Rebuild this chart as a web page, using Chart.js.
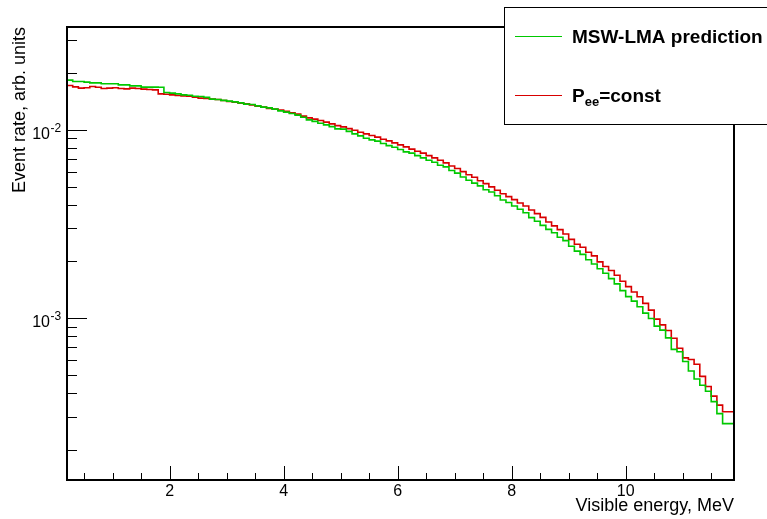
<!DOCTYPE html>
<html>
<head>
<meta charset="utf-8">
<script src="https://cdn.jsdelivr.net/npm/chart.js@4.4.1/dist/chart.umd.min.js"></script>
<style>
  html, body { margin: 0; padding: 0; background: #fff; }
  #wrap { width: 767px; height: 519px; }
</style>
</head>
<body>
<div id="wrap"><canvas id="chart" width="767" height="519"></canvas></div>
<script>
// histogram binning (MeV)
const binStart = 0.2;
const binWidth = 0.1;
const xMin = 0.2, xMax = 11.9;
const yMin = 1.38e-4, yMax = 0.0352;

// bin contents, 117 bins each
const mswLma = [
  0.01838, 0.01838, 0.01807, 0.01807, 0.01794, 0.01778, 0.01778, 0.01757, 0.01757, 0.01757,
  0.01735, 0.01735, 0.01714, 0.01714, 0.01687, 0.01687, 0.01687, 0.01683, 0.01579, 0.01567,
  0.01554, 0.01535,
  0.01526, 0.01508, 0.01504, 0.01489, 0.01457, 0.01450, 0.01435, 0.01422, 0.01409, 0.01392,
  0.01370, 0.01364, 0.01342, 0.01321, 0.01309, 0.01289, 0.01262, 0.01242, 0.01221, 0.01197,
  0.01168,
  0.01130, 0.01110, 0.01085, 0.01063, 0.01041, 0.01012, 0.01009, 0.00982, 0.00952, 0.00929,
  0.00903, 0.00885, 0.00871, 0.00846, 0.00825, 0.00809, 0.00786, 0.00764, 0.00752, 0.00730,
  0.00710,
  0.00690, 0.00673, 0.00649, 0.00636, 0.00608, 0.00589, 0.00562, 0.00540, 0.00521, 0.00504,
  0.00481, 0.00468, 0.00447, 0.00424, 0.00411, 0.00394, 0.00379, 0.00363,
  0.00342, 0.00327, 0.00311, 0.00296, 0.00284, 0.00269, 0.00258, 0.00241, 0.00227, 0.00218,
  0.00204, 0.00194, 0.00183, 0.00173, 0.00162, 0.00152, 0.00140, 0.00130,
  0.001231, 0.001148, 0.001063, 0.000996, 0.000907, 0.000863, 0.000785, 0.000682, 0.000662,
  0.000588, 0.000524, 0.000475, 0.000440, 0.000409, 0.000360, 0.000311, 0.000275
];
const peeConst = [
  0.01699, 0.01720, 0.01693, 0.01667, 0.01673, 0.01699, 0.01683, 0.01659, 0.01667, 0.01673,
  0.01659, 0.01652, 0.01667, 0.01659, 0.01646, 0.01638, 0.01632, 0.01554, 0.01545, 0.01535,
  0.01522, 0.01516,
  0.01508, 0.01493, 0.01475, 0.01468, 0.01457, 0.01450, 0.01432, 0.01414, 0.01404, 0.01387,
  0.01375, 0.01358, 0.01334, 0.01321, 0.01298, 0.01289, 0.01273, 0.01254, 0.01231, 0.01212,
  0.01183,
  0.01158, 0.01140, 0.01121, 0.01099, 0.01076, 0.01054, 0.01038, 0.01016, 0.00996, 0.00972,
  0.00952, 0.00933, 0.00915, 0.00892, 0.00874, 0.00853, 0.00832, 0.00812, 0.00790, 0.00770,
  0.00752,
  0.00730, 0.00710, 0.00690, 0.00668, 0.00643, 0.00623, 0.00600, 0.00578, 0.00560, 0.00537,
  0.00518, 0.00498, 0.00478, 0.00458, 0.00442, 0.00426, 0.00409, 0.00394,
  0.00375, 0.00359, 0.00343, 0.00324, 0.00309, 0.00295, 0.00280, 0.00262, 0.00247, 0.00238,
  0.00224, 0.00214, 0.00199, 0.00188, 0.00179, 0.00169, 0.00157, 0.00147,
  0.001375, 0.001298, 0.001197, 0.001103, 0.000988, 0.000921, 0.000860, 0.000782, 0.000692,
  0.000615, 0.000603, 0.000569, 0.000490, 0.000433, 0.000385, 0.000345, 0.000318
];

const seriesLabels = ['MSW-LMA prediction', 'P_{ee}=const'];
const xTitle = 'Visible energy, MeV';
const yTitle = 'Event rate, arb. units';
const xMajorStep = 2;

const FONT = '"Liberation Sans", Arial, Helvetica, sans-serif';

// step histogram: one point per lower bin edge + closing point at last upper edge
function toSteps(values) {
  const pts = values.map((v, i) => ({ x: binStart + i * binWidth, y: v }));
  pts.push({ x: binStart + values.length * binWidth, y: values[values.length - 1] });
  return pts;
}

function line(ctx, x1, y1, x2, y2) {
  ctx.beginPath();
  ctx.moveTo(x1, y1);
  ctx.lineTo(x2, y2);
  ctx.stroke();
}

// text with ROOT-like _{sub} markup
function drawRich(ctx, text, x, y, size) {
  const parts = text.split(/_\{([^}]*)\}/);
  parts.forEach((p, k) => {
    if (k % 2) {
      ctx.font = 'bold ' + Math.round(size * 0.66) + 'px ' + FONT;
      ctx.fillText(p, x, y + 4);
    } else {
      ctx.font = 'bold ' + size + 'px ' + FONT;
      ctx.fillText(p, x, y);
    }
    x += ctx.measureText(p).width;
  });
}

const rootFrame = {
  id: 'rootFrame',
  afterDatasetsDraw(chart) {
    const { ctx, chartArea: a, scales: { x, y } } = chart;
    ctx.save();
    ctx.strokeStyle = '#000';
    ctx.lineWidth = 1;

    // x ticks, inside the frame
    const minor = xMajorStep / 4;
    for (let v = Math.ceil(x.min / minor) * minor; v <= x.max + 1e-9; v += minor) {
      const px = Math.round(x.getPixelForValue(v)) + 0.5;
      const isMajor = Math.abs(v / xMajorStep - Math.round(v / xMajorStep)) < 1e-6;
      line(ctx, px, a.bottom, px, a.bottom - (isMajor ? 14 : 7));
    }

    // y ticks (log) and decade labels
    ctx.fillStyle = '#000';
    for (let e = Math.floor(Math.log10(y.min)); e <= Math.ceil(Math.log10(y.max)); e++) {
      for (let m = 1; m <= 9; m++) {
        const v = m * Math.pow(10, e);
        if (v < y.min || v > y.max) continue;
        const py = Math.round(y.getPixelForValue(v)) + 0.5;
        line(ctx, a.left, py, a.left + (m === 1 ? 20 : 10), py);
        if (m === 1) {
          ctx.textBaseline = 'alphabetic';
          ctx.textAlign = 'right';
          ctx.font = '16px ' + FONT;
          ctx.fillText('10', 50, py + 8.5);
          ctx.textAlign = 'left';
          ctx.font = '12px ' + FONT;
          ctx.fillText(String(e), 50.5, py + 1);
        }
      }
    }

    // frame
    ctx.lineWidth = 2;
    ctx.strokeRect(a.left, a.top, a.right - a.left, a.bottom - a.top);
    ctx.restore();
  },
  afterDraw(chart) {
    const { ctx } = chart;
    ctx.save();
    // legend box (runs off the right edge)
    ctx.fillStyle = '#fff';
    ctx.fillRect(504, 7, 300, 117);
    ctx.strokeStyle = '#000';
    ctx.lineWidth = 1;
    ctx.strokeRect(504.5, 7.5, 300, 117);
    const rows = [36.5, 95.5];
    chart.data.datasets.forEach((ds, i) => {
      ctx.strokeStyle = ds.borderColor;
      ctx.lineWidth = 1;
      line(ctx, 515, rows[i], 562, rows[i]);
      ctx.fillStyle = '#000';
      ctx.textAlign = 'left';
      ctx.textBaseline = 'alphabetic';
      drawRich(ctx, ds.label, 572, rows[i] + 6, 19);
    });
    ctx.restore();
  }
};

new Chart(document.getElementById('chart'), {
  type: 'line',
  data: {
    datasets: [
      {
        label: seriesLabels[0],
        data: toSteps(mswLma),
        borderColor: '#00c800',
        borderWidth: 1.6,
        stepped: 'after',
        pointRadius: 0,
        fill: false
      },
      {
        label: seriesLabels[1],
        data: toSteps(peeConst),
        borderColor: '#d80000',
        borderWidth: 1.6,
        stepped: 'after',
        pointRadius: 0,
        fill: false
      }
    ]
  },
  options: {
    responsive: false,
    animation: false,
    devicePixelRatio: 1,
    layout: { padding: { top: 27, right: 33, left: 0, bottom: 0 } },
    plugins: { legend: { display: false }, tooltip: { enabled: false } },
    scales: {
      x: {
        type: 'linear',
        min: xMin,
        max: xMax,
        grid: { display: false, drawTicks: false },
        border: { display: false },
        ticks: {
          stepSize: xMajorStep,
          includeBounds: false,
          padding: 2,
          color: '#000',
          font: { family: FONT, size: 16 }
        },
        title: {
          display: true,
          text: xTitle,
          align: 'end',
          color: '#000',
          font: { family: FONT, size: 18 },
          padding: { top: 0, bottom: 2 }
        },
        afterFit(s) { s.height = 39; }
      },
      y: {
        type: 'logarithmic',
        min: yMin,
        max: yMax,
        grid: { display: false, drawTicks: false },
        border: { display: false },
        ticks: { display: false },
        title: {
          display: true,
          text: yTitle,
          align: 'end',
          color: '#000',
          font: { family: FONT, size: 18 },
          padding: { top: 9, bottom: 0 }
        },
        afterFit(s) { s.width = 67; }
      }
    }
  },
  plugins: [rootFrame]
});
</script>
</body>
</html>
